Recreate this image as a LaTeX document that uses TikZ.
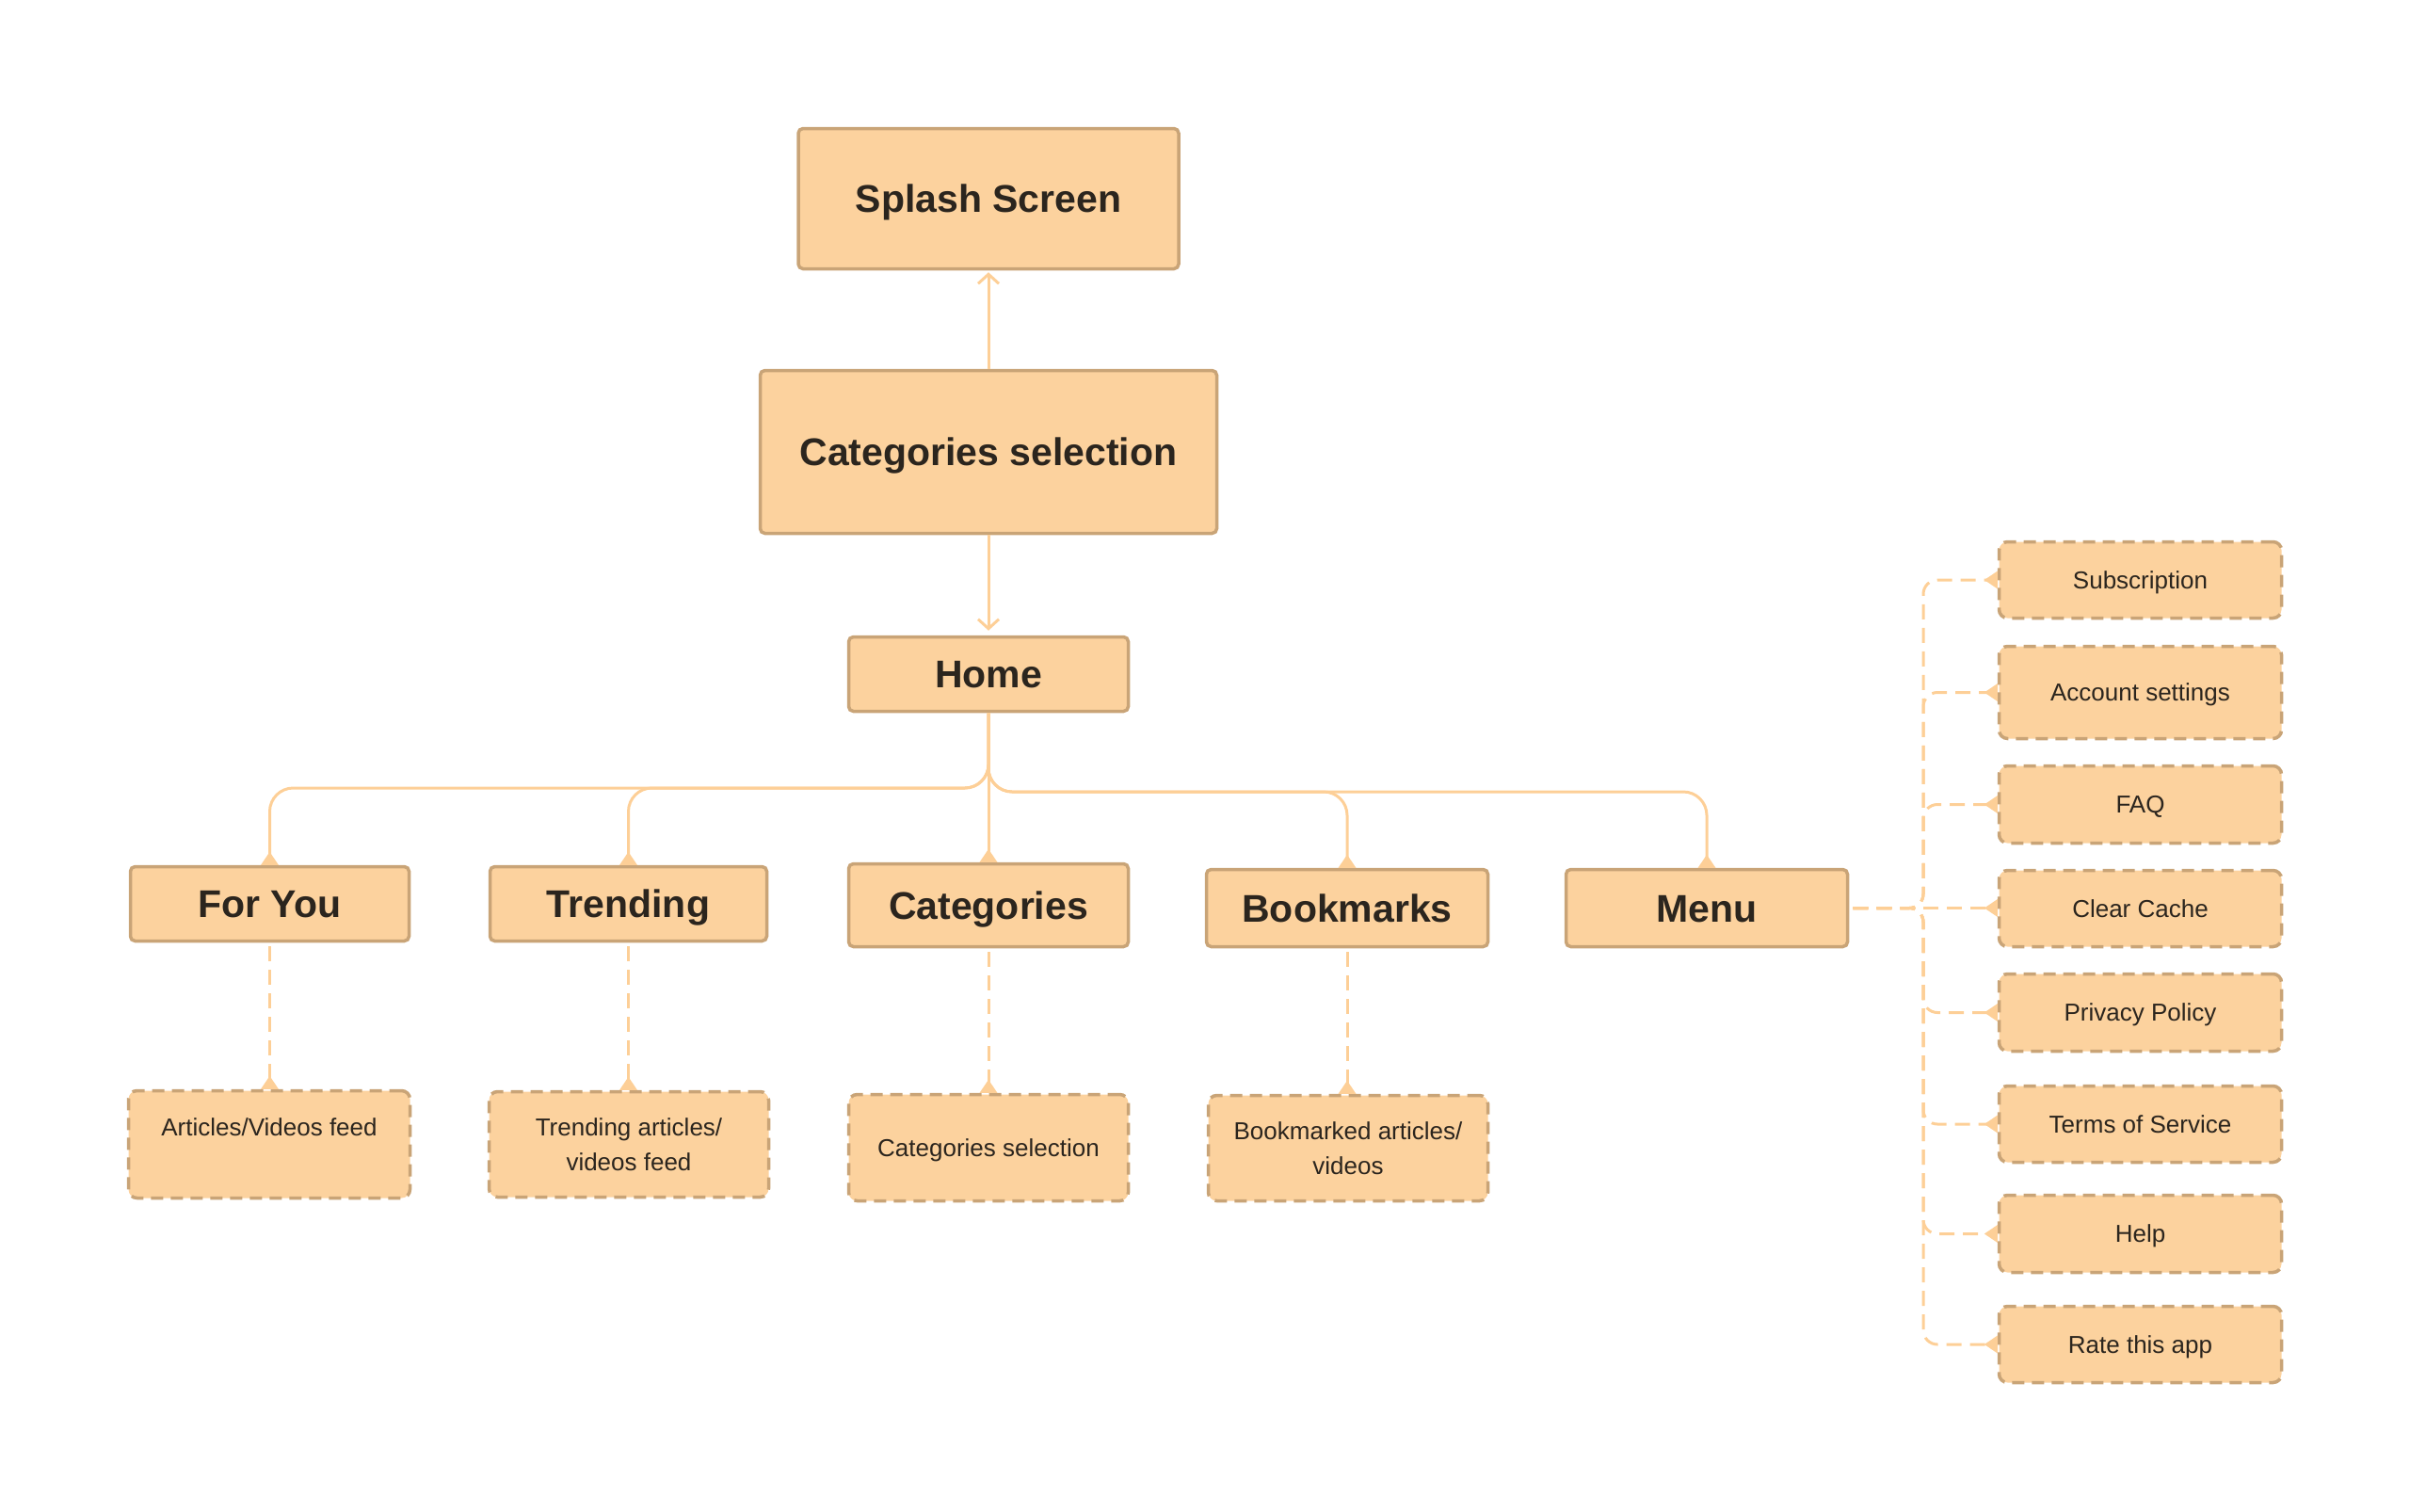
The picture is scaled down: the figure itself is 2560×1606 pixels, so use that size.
\documentclass[tikz,border=0pt]{standalone}
\usepackage{fontspec}
\setmainfont{Liberation Sans}
\usetikzlibrary{arrows.meta}
\definecolor{boxfill}{HTML}{FCD29E}
\definecolor{boxline}{HTML}{C9A477}
\definecolor{conncol}{HTML}{FDCF97}
\definecolor{txtcol}{HTML}{2B251E}
\newcommand{\capH}[1]{\raisebox{0pt}[29.4pt][0pt]{#1}}
\newcommand{\capS}[1]{\raisebox{0pt}[18.6pt][0pt]{#1}}
\begin{document}
\begin{tikzpicture}[x=1pt,y=-1pt,
  mainbox/.style={draw=boxline, fill=boxfill, line width=3.5pt, rounded corners=5pt,
    inner sep=0pt, text=txtcol, font=\fontsize{41}{49}\selectfont\bfseries, align=center},
  subbox/.style={draw=boxline, fill=boxfill, line width=3.5pt, dash pattern=on 13pt off 8pt,
    rounded corners=9pt, inner sep=0pt, text=txtcol, font=\fontsize{26}{37}\selectfont, align=center},
  conn/.style={draw=conncol, line width=3pt},
  dconn/.style={conn, dash pattern=on 16pt off 9pt},
  barb/.style={-{Straight Barb[length=10pt,width=22pt,line width=3pt]}},
  foot/.style={-{Triangle[reversed,length=14pt,width=18pt]}},
]
\useasboundingbox (0,0) rectangle (2560,1606);

% main column
\node[mainbox, minimum width=404pt, minimum height=149pt] (splash) at (1050,211) {\capH{Splash Screen}};
\node[mainbox, minimum width=485pt, minimum height=173pt] (catsel) at (1050,480) {\capH{Categories selection}};
\node[mainbox, minimum width=297pt, minimum height=79pt] (home) at (1050,716) {\capH{Home}};

% tabs
\node[mainbox, minimum width=296pt, minimum height=79pt] (foryou) at (286.5,960) {\capH{For You}};
\node[mainbox, minimum width=294pt, minimum height=79pt] (trending) at (667.5,960) {\capH{Trending}};
\node[mainbox, minimum width=297pt, minimum height=88pt] (categories) at (1050,961.5) {\capH{Categories}};
\node[mainbox, minimum width=299pt, minimum height=82pt] (bookmarks) at (1431,964.5) {\capH{Bookmarks}};
\node[mainbox, minimum width=299pt, minimum height=82pt] (menu) at (1813,964.5) {\capH{Menu}};

% sub screens
\node[subbox, minimum width=299pt, minimum height=114pt] (articles) at (286,1215.5) {\capS{Articles/Videos feed}\\\capS{}};
\node[subbox, minimum width=297pt, minimum height=112pt] (trendsub) at (668,1215.5) {\capS{Trending articles/}\\\capS{videos feed}};
\node[subbox, minimum width=297pt, minimum height=113pt] (catsub) at (1050,1219) {\capS{Categories selection}};
\node[subbox, minimum width=297pt, minimum height=112pt] (booksub) at (1432,1219.5) {\capS{Bookmarked articles/}\\\capS{videos}};

% menu items
\node[subbox, minimum width=300pt, minimum height=81pt] (subscr) at (2273.5,616) {\capS{Subscription}};
\node[subbox, minimum width=300pt, minimum height=98pt] (account) at (2273.5,735.5) {\capS{Account settings}};
\node[subbox, minimum width=300pt, minimum height=82pt] (faq) at (2273.5,854.5) {\capS{FAQ}};
\node[subbox, minimum width=300pt, minimum height=81pt] (cache) at (2273.5,965) {\capS{Clear Cache}};
\node[subbox, minimum width=300pt, minimum height=82pt] (privacy) at (2273.5,1075.5) {\capS{Privacy Policy}};
\node[subbox, minimum width=300pt, minimum height=81pt] (terms) at (2273.5,1194) {\capS{Terms of Service}};
\node[subbox, minimum width=300pt, minimum height=82pt] (help) at (2273.5,1310.5) {\capS{Help}};
\node[subbox, minimum width=300pt, minimum height=81pt] (rate) at (2273.5,1428) {\capS{Rate this app}};

% main column connectors
\draw[conn, barb, shorten >=2pt] (catsel.north) -- (splash.south);
\draw[conn, barb, shorten >=5pt] (catsel.south) -- (home.north);

% tree from home
\coordinate (jl) at (1050,837);
\coordinate (jr) at (1050,841);
\draw[conn, foot, rounded corners=25pt] (home.south) -- (jl) -- (jl -| foryou.north) -- (foryou.north);
\draw[conn, foot, rounded corners=25pt] (home.south) -- (jl) -- (jl -| trending.north) -- (trending.north);
\draw[conn, foot] (home.south) -- (categories.north);
\draw[conn, foot, rounded corners=25pt] (home.south) -- (jr) -- (jr -| bookmarks.north) -- (bookmarks.north);
\draw[conn, foot, rounded corners=25pt] (home.south) -- (jr) -- (jr -| menu.north) -- (menu.north);

% tab to sub screen
\draw[dconn, foot] ([yshift=-4pt]foryou.south) -- (foryou.south |- articles.north);
\draw[dconn, foot] ([yshift=-4pt]trending.south) -- (trending.south |- trendsub.north);
\draw[dconn, foot] ([yshift=-4pt]categories.south) -- (catsub.north);
\draw[dconn, foot] ([yshift=-4pt]bookmarks.south) -- (bookmarks.south |- booksub.north);

% menu connectors
\coordinate (trunk) at (2043,964.5);
\foreach \it in {subscr,account,faq,privacy,terms,help,rate}{
  \draw[dconn, foot, rounded corners=15pt] ([xshift=4pt]menu.east) -- (trunk) -- (trunk |- \it.west) -- (\it.west);
}
\draw[dconn, foot] ([xshift=4pt]menu.east) -- (menu.east -| cache.west);
\end{tikzpicture}
\end{document}
